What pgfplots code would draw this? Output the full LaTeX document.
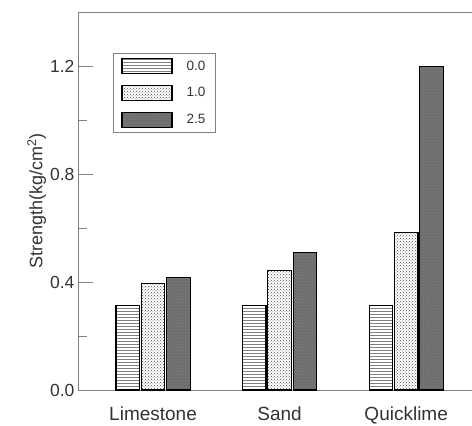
\documentclass[border=0pt]{standalone}
\usepackage{pgfplots}
\pgfplotsset{compat=1.18}
\usepackage{fontspec}
\setmainfont{Liberation Sans}
\usetikzlibrary{patterns}
\definecolor{txt}{HTML}{333333}
\definecolor{spine}{HTML}{808080}
\begin{document}
\begin{tikzpicture}
\begin{axis}[
  scale only axis, width=394pt, height=378pt,
  xmin=-0.593, xmax=2.52, ymin=0, ymax=1.4,
  axis x line*=bottom, axis y line*=left,
  axis line style={spine, line width=0.8pt},
  xtick={0,1,2}, xticklabels={Limestone,Sand,Quicklime},
  major x tick style={draw=none},
  xticklabel style={font=\fontsize{19}{22}\selectfont, text=txt, yshift=-13pt},
  ytick={0,0.4,0.8,1.2}, minor ytick={0.2,0.6,1.0},
  tick align=inside, major tick length=15pt, minor tick length=9pt,
  y tick style={spine, line width=0.8pt},
  yticklabel style={font=\fontsize{17.5}{20}\selectfont, text=txt, /pgf/number format/.cd, fixed, fixed zerofill, precision=1, assume math mode=true},
  ylabel={Strength(kg/cm\textsuperscript{2})},
  every axis y label/.style={at={(axis description cs:-0.105,0.5)}, rotate=90, anchor=center, font=\fontsize{18}{21}\selectfont, text=txt},
  legend style={at={(axis description cs:0.089,0.892)}, anchor=north west, draw=spine, line width=0.6pt,
    font=\fontsize{13.5}{16}\selectfont, text=txt, row sep=10.5pt, inner xsep=8pt, inner ysep=5pt},
  legend cell align=left,
  legend image code/.code={\draw[#1] (0pt,-7.5pt) rectangle (50pt,7.5pt);},
  legend style={/tikz/every odd column/.append style={column sep=12pt}},
  clip=false,
]
\addplot[ybar, bar width=0.186, bar shift=-0.2, draw=black, line width=1.2pt, fill=white,
  postaction={pattern=horizontal lines, pattern color=gray}]
  coordinates {(0,0.314) (1,0.314) (2,0.314)};
\addplot[ybar, bar width=0.186, bar shift=0, draw=black, line width=1.2pt, fill=white,
  postaction={pattern=crosshatch dots, pattern color=black!70}]
  coordinates {(0,0.395) (1,0.443) (2,0.582)};
\addplot[ybar, bar width=0.186, bar shift=0.2, draw=black, line width=1.2pt, fill=black!57,
  postaction={pattern=dots, pattern color=black!40}]
  coordinates {(0,0.416) (1,0.508) (2,1.198)};
\legend{0.0,1.0,2.5}
\draw[spine, line width=0.8pt] (rel axis cs:0,1) -- (rel axis cs:1,1);
\coordinate (ll) at (rel axis cs:0,0);
\coordinate (ur) at (rel axis cs:1,1);
\end{axis}
\pgfresetboundingbox
\path ([xshift=-78pt,yshift=-36pt]ll) rectangle ([yshift=12pt]ur);
\end{tikzpicture}
\end{document}
